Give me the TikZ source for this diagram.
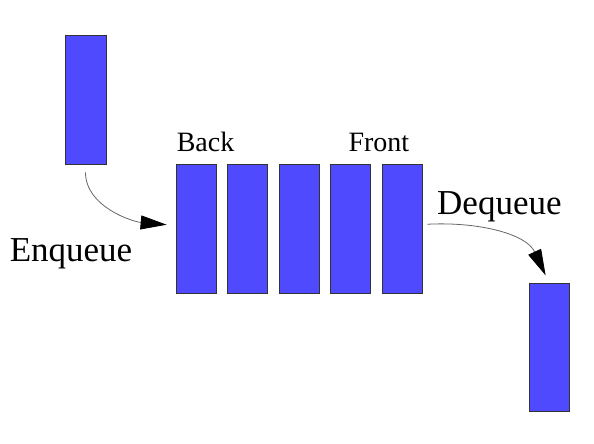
\documentclass[tikz,border=0pt]{standalone}
\usepackage{fontspec}
\setmainfont{Liberation Serif}
\usepackage{xcolor}
\usepackage{tikz}
\usetikzlibrary{positioning, arrows.meta}
\definecolor{qblue}{HTML}{504AFF}
\definecolor{qline}{HTML}{333333}
\definecolor{qarrow}{HTML}{666666}

\begin{document}
\begin{tikzpicture}[x=1pt, y=1pt, node distance=10.7pt,
    qbox/.style={rectangle, draw=qline, line width=0.8pt, fill=qblue,
          minimum width=40pt, minimum height=129pt, inner sep=0pt},
    biglbl/.style={inner sep=0pt, font=\fontsize{35}{40}\selectfont},
    smalllbl/.style={inner sep=0pt, font=\fontsize{28}{32}\selectfont},
    arr/.style={draw=qarrow, line width=0.8pt,
          -{Triangle[length=26pt, width=14pt, color=black]}}]
    \useasboundingbox (0,0) rectangle (594,444);
    % element waiting to enter
    \node[qbox, minimum width=41pt] (inbox) at (85.5,344.5) {};
    % the queue itself
    \node[qbox] (b1) at (196,215.5) {};
    \node[qbox, right=of b1] (b2) {};
    \node[qbox, right=of b2] (b3) {};
    \node[qbox, right=of b3] (b4) {};
    \node[qbox, right=of b4] (b5) {};
    % element that has left
    \node[qbox, minimum height=128pt] (outbox) at (549,97) {};

    \node[smalllbl, anchor=base west] (back) at ([xshift=1pt, yshift=12pt]b1.north west) {Back};
    \node[smalllbl, anchor=base east] (front) at ([xshift=-13pt, yshift=12pt]b5.north east) {Front};
    \node[biglbl, anchor=base] (enq) at (71,182) {Enqueue};
    \node[biglbl, anchor=base west] (deq) at (437,229) {Dequeue};

    \draw[arr, shorten <=8pt, shorten >=9pt] (inbox.south) to[out=-90, in=175] ([yshift=3pt]b1.west);
    \draw[arr, shorten <=5pt, shorten >=8pt] ([yshift=4pt]b5.east) to[out=3, in=115] (outbox.north);
  \end{tikzpicture}
\end{document}
